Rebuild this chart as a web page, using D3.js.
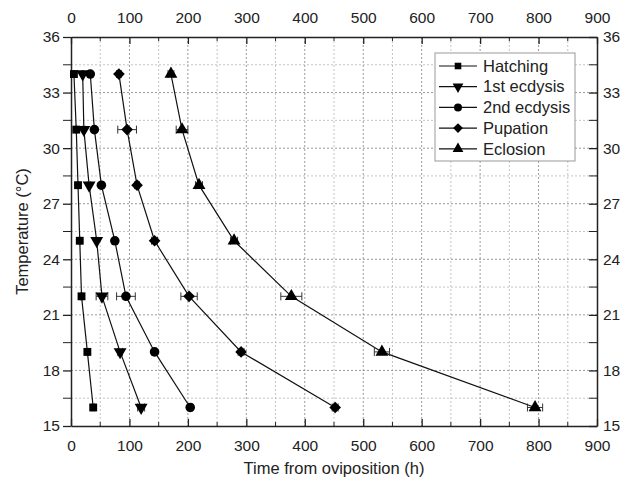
<!DOCTYPE html>
<html>
<head>
<meta charset="utf-8">
<script src="https://cdn.jsdelivr.net/npm/d3@7"></script>
<style>
  body { margin: 0; background: #fff; }
  svg { font-family: "Liberation Sans", Arial, sans-serif; }
</style>
</head>
<body>
<div id="chart"></div>
<script>
// data (hours from oviposition at each temperature)
const temps = [34, 31, 28, 25, 22, 19, 16];
const hatching = [5, 9, 12, 15, 18, 28, 38];
const ecdysis1 = [20, 22, 31, 44, 53, 84, 120];
const ecdysis2 = [33, 40, 52, 75, 94, 143, 204];
const pupation = [82, 96, 113, 143, 202, 291, 452];
const eclosion = [171, 190, 219, 279, 377, 532, 794];

const hatchingErr = [1, 1, 1, 1, 1, 2, 2];
const ecdysis1Err = [1, 2, 2, 2, 10, 4, 6];
const ecdysis2Err = [2, 2, 2, 3, 16, 3, 4];
const pupationErr = [4, 16, 4, 5, 14, 5, 5];
const eclosionErr = [5, 10, 6, 6, 18, 13, 13];

const seriesNames = ['Hatching', '1st ecdysis', '2nd ecdysis', 'Pupation', 'Eclosion'];
const xTicks = [0, 100, 200, 300, 400, 500, 600, 700, 800, 900];
const yTicks = [15, 18, 21, 24, 27, 30, 33, 36];

const series = [
  { name: seriesNames[0], values: hatching, err: hatchingErr, symbol: d3.symbolSquare, size: 62, rot: 0 },
  { name: seriesNames[1], values: ecdysis1, err: ecdysis1Err, symbol: d3.symbolTriangle, size: 72, rot: 180 },
  { name: seriesNames[2], values: ecdysis2, err: ecdysis2Err, symbol: d3.symbolCircle, size: 72, rot: 0 },
  { name: seriesNames[3], values: pupation, err: pupationErr, symbol: d3.symbolSquare, size: 68, rot: 45 },
  { name: seriesNames[4], values: eclosion, err: eclosionErr, symbol: d3.symbolTriangle, size: 72, rot: 0 }
];

const W = 624, H = 482;
const margin = { left: 71, right: 27, top: 37, bottom: 56 };
const width = W - margin.left - margin.right;
const height = H - margin.top - margin.bottom;

const svg = d3.select('#chart').append('svg')
  .attr('width', W)
  .attr('height', H);

const chart = svg.append('g')
  .attr('transform', `translate(${margin.left},${margin.top})`);

const xScale = d3.scaleLinear().domain([0, 900]).range([0, width]);
const yScale = d3.scaleLinear().domain([15, 36]).range([height, 0]);

// grid every 50 h and 1.5 degC
const gx = d3.range(50, 900, 50);
const gy = d3.range(16.5, 36, 1.5);
chart.append('g').selectAll('line').data(gx).join('line')
  .attr('x1', d => xScale(d)).attr('x2', d => xScale(d))
  .attr('y1', 0).attr('y2', height)
  .attr('stroke', d => d % 100 === 0 ? '#9a9a9a' : '#c4c4c4')
  .attr('stroke-width', 1)
  .attr('stroke-dasharray', '2,2');
chart.append('g').selectAll('line').data(gy).join('line')
  .attr('y1', d => yScale(d)).attr('y2', d => yScale(d))
  .attr('x1', 0).attr('x2', width)
  .attr('stroke', d => d % 3 === 0 ? '#9a9a9a' : '#c4c4c4')
  .attr('stroke-width', 1)
  .attr('stroke-dasharray', '2,2');

// axes
const minorX = d3.range(50, 900, 100);
const minorY = d3.range(16.5, 36, 3);

const axBottom = chart.append('g').attr('transform', `translate(0,${height})`)
  .call(d3.axisBottom(xScale).tickValues(xTicks).tickSizeInner(-7).tickSizeOuter(0).tickPadding(14));
const axTop = chart.append('g')
  .call(d3.axisTop(xScale).tickValues(xTicks).tickSizeInner(-7).tickSizeOuter(0).tickPadding(14));
const axLeft = chart.append('g')
  .call(d3.axisLeft(yScale).tickValues(yTicks).tickSizeInner(8).tickSizeOuter(0).tickPadding(3));
const axRight = chart.append('g').attr('transform', `translate(${width},0)`)
  .call(d3.axisRight(yScale).tickValues(yTicks).tickSizeInner(-8).tickSizeOuter(0).tickPadding(6));

[axBottom, axTop, axLeft, axRight].forEach(a => {
  a.select('.domain').attr('stroke', '#222').attr('stroke-width', 1.5);
  a.selectAll('.tick line').attr('stroke', '#222').attr('stroke-width', 1.3);
  a.selectAll('.tick text').attr('font-size', 15.5).attr('fill', '#222')
    .attr('font-family', '"Liberation Sans", Arial, sans-serif');
});

// minor ticks
chart.append('g').selectAll('line').data(minorX).join('line')
  .attr('x1', d => xScale(d)).attr('x2', d => xScale(d))
  .attr('y1', height).attr('y2', height - 4).attr('stroke', '#222');
chart.append('g').selectAll('line').data(minorX).join('line')
  .attr('x1', d => xScale(d)).attr('x2', d => xScale(d))
  .attr('y1', 0).attr('y2', 4).attr('stroke', '#222');
chart.append('g').selectAll('line').data(minorY).join('line')
  .attr('y1', d => yScale(d)).attr('y2', d => yScale(d))
  .attr('x1', 0).attr('x2', -8).attr('stroke', '#222');
chart.append('g').selectAll('line').data(minorY).join('line')
  .attr('y1', d => yScale(d)).attr('y2', d => yScale(d))
  .attr('x1', width).attr('x2', width - 8).attr('stroke', '#222');

// series lines, error bars, markers
const line = d3.line()
  .x(d => xScale(d.x))
  .y(d => yScale(d.y));

series.forEach(s => {
  const pts = s.values.map((v, i) => ({ x: v, y: temps[i], e: s.err[i] }));
  chart.append('path')
    .datum(pts)
    .attr('d', line)
    .attr('fill', 'none')
    .attr('stroke', '#111')
    .attr('stroke-width', 1.2);

  const eb = chart.append('g').attr('stroke', '#333').attr('stroke-width', 1);
  eb.selectAll('.bar').data(pts).join('line')
    .attr('x1', d => xScale(d.x - d.e)).attr('x2', d => xScale(d.x + d.e))
    .attr('y1', d => yScale(d.y)).attr('y2', d => yScale(d.y));
  eb.selectAll('.capl').data(pts).join('line')
    .attr('x1', d => xScale(d.x - d.e)).attr('x2', d => xScale(d.x - d.e))
    .attr('y1', d => yScale(d.y) - 4).attr('y2', d => yScale(d.y) + 4);
  eb.selectAll('.capr').data(pts).join('line')
    .attr('x1', d => xScale(d.x + d.e)).attr('x2', d => xScale(d.x + d.e))
    .attr('y1', d => yScale(d.y) - 4).attr('y2', d => yScale(d.y) + 4);

  chart.append('g').selectAll('path').data(pts).join('path')
    .attr('d', d3.symbol().type(s.symbol).size(s.size))
    .attr('transform', d => `translate(${xScale(d.x)},${yScale(d.y)}) rotate(${s.rot})`)
    .attr('fill', '#000');
});

// legend
const legend = svg.append('g').attr('transform', 'translate(435,53)');
legend.append('rect')
  .attr('width', 140).attr('height', 108)
  .attr('fill', '#fff').attr('stroke', '#999').attr('stroke-width', 1);
series.forEach((s, i) => {
  const y = 13 + i * 20.7;
  const g = legend.append('g').attr('transform', `translate(0,${y})`);
  g.append('line').attr('x1', 4).attr('x2', 42).attr('y1', 0).attr('y2', 0)
    .attr('stroke', '#111').attr('stroke-width', 1.2);
  g.append('path')
    .attr('d', d3.symbol().type(s.symbol).size(s.size * 0.7))
    .attr('transform', `translate(23,0) rotate(${s.rot})`)
    .attr('fill', '#000');
  g.append('text').attr('x', 48).attr('y', 0).attr('dy', '0.35em')
    .attr('font-size', 16.5).attr('fill', '#222').text(s.name);
});

// axis titles
svg.append('text')
  .attr('x', margin.left + width / 2).attr('y', 474)
  .attr('text-anchor', 'middle').attr('font-size', 16.5).attr('fill', '#222')
  .text('Time from oviposition (h)');
svg.append('text')
  .attr('transform', `translate(28,${margin.top + height / 2}) rotate(-90)`)
  .attr('text-anchor', 'middle').attr('font-size', 16.5).attr('fill', '#222')
  .text('Temperature (°C)');
</script>
</body>
</html>
